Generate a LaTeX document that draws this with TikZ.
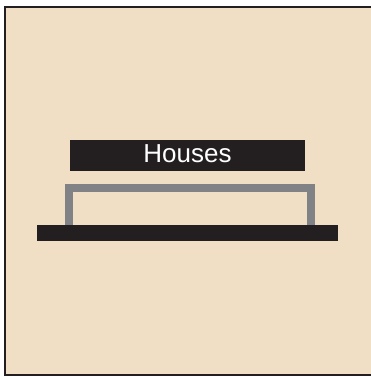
\documentclass[tikz,border=0pt]{standalone}
\usepackage{fontspec}
\setmainfont{Liberation Sans}
\usepackage{xcolor}
\definecolor{sand}{RGB}{240,223,196}
\definecolor{inkblack}{RGB}{35,31,32}
\definecolor{railgray}{RGB}{128,130,133}
\usetikzlibrary{positioning}

\begin{document}
\begin{tikzpicture}[x=1pt, y=-1pt,
    darkbar/.style={fill=inkblack, inner sep=0pt, outer sep=0pt}]
  \useasboundingbox (0,0) rectangle (370,377);
  % Panel
  \draw[draw=inkblack, line width=2pt, fill=sand] (5,7) rectangle (385,375);

  % Label bar
  \node[darkbar, text=white, minimum width=235pt, minimum height=31pt,
        text height=22pt, text depth=9pt,
        font=\fontsize{26}{26}\selectfont] (houses) at (187.5,155.5) {Houses};

  % Gray frame on the base
  \draw[railgray, line width=8pt] (69,226) -- (69,188) -- (311,188) -- (311,226);

  % Base bar
  \node[darkbar, minimum width=301pt, minimum height=16pt] (base) at (187.5,233) {};
\end{tikzpicture}
\end{document}
